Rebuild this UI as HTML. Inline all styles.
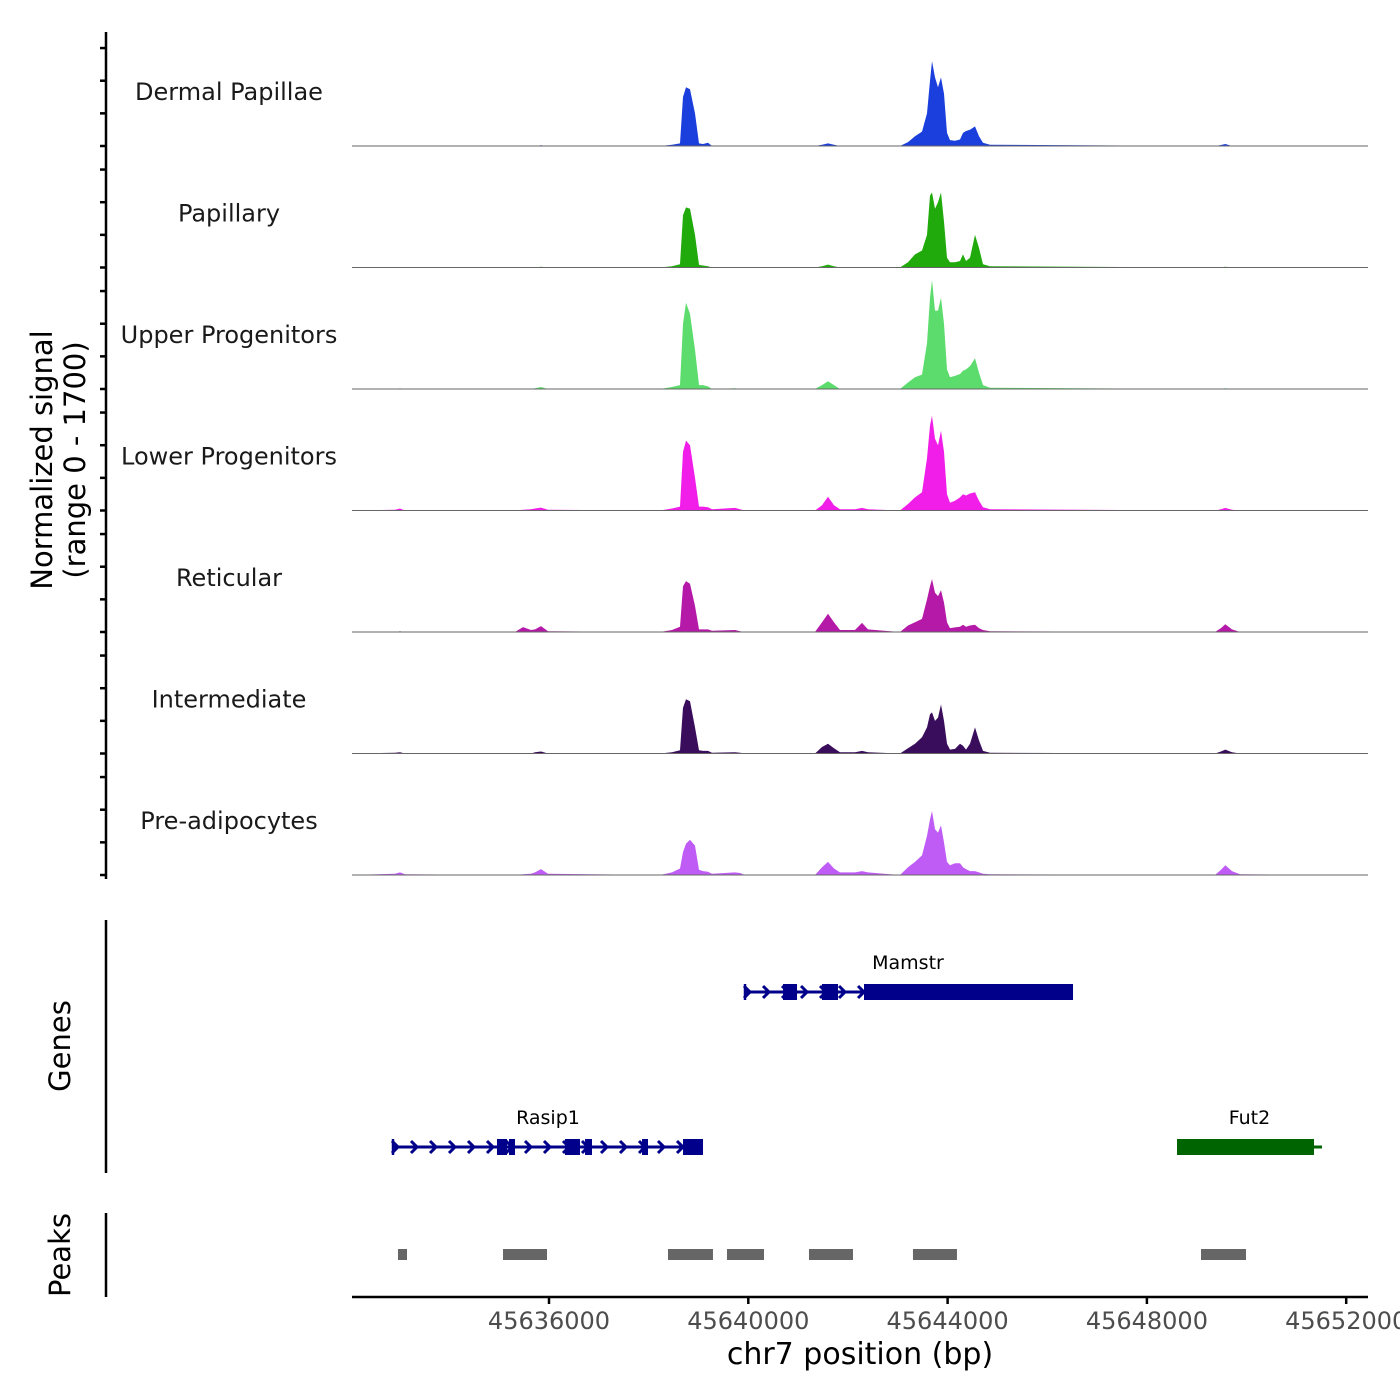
<!DOCTYPE html>
<html><head><meta charset="utf-8"><style>
html,body{margin:0;padding:0;background:#fff;}
svg{display:block;font-family:"DejaVu Sans","Liberation Sans",sans-serif;}
</style></head><body>
<svg id="chart" width="1400" height="1400" viewBox="0 0 1400 1400" xmlns="http://www.w3.org/2000/svg">
<rect width="1400" height="1400" fill="#fff"/>
<g id="tracks"></g>
<g id="yaxis"></g>
<g id="genes"></g>
<g id="peaks"></g>
<g id="xaxis"></g>
<text transform="translate(52,460) rotate(-90)" text-anchor="middle" font-size="29" fill="#000">Normalized signal</text>
<text transform="translate(85,460) rotate(-90)" text-anchor="middle" font-size="29" fill="#000">(range 0 - 1700)</text>
<text transform="translate(70,1046) rotate(-90)" text-anchor="middle" font-size="29" fill="#000">Genes</text>
<text transform="translate(70,1255) rotate(-90)" text-anchor="middle" font-size="29" fill="#000">Peaks</text>
<text x="860" y="1364" text-anchor="middle" font-size="30" fill="#000">chr7 position (bp)</text>
</svg>
<script>
const trackNames=["Dermal Papillae","Papillary","Upper Progenitors","Lower Progenitors","Reticular","Intermediate","Pre-adipocytes"];
const trackColors=["#1a3fdc","#20aa0c","#5cdc6c","#f01ee8","#b519a8","#3a0c5c","#c05cf6"];
const positions=[45632046,45632909,45633010,45633110,45635318,45635478,45635639,45635719,45635839,45635980,
45638228,45638469,45638629,45638689,45638750,45638830,45638930,45639011,45639091,45639191,
45639271,45639733,45639833,45639934,45641339,45641479,45641600,45641720,45641840,45642141,
45642282,45642402,45643045,45643205,45643346,45643486,45643586,45643646,45643687,45643747,
45643807,45643867,45643927,45643988,45644048,45644148,45644249,45644309,45644369,45644450,
45644550,45644630,45644710,45644851,45649367,45649487,45649573,45649708,45649868,45652437];
const sigDermal=[0,0,5,0,0,0,0,0,10,0, 0,20,40,750,900,870,500,40,30,50, 0,0,0,0,0,20,40,20,0,0, 0,0,0,60,150,220,500,1000,1300,1050, 900,1050,800,200,90,80,100,200,230,250, 300,150,50,20, 0,15,30,0,0,0];
const sigPapillary=[0,0,0,0,0,0,0,0,10,0, 0,20,50,800,920,900,500,40,30,20, 0,0,0,0,0,20,45,20,0,0, 0,0,0,80,200,260,500,1100,1150,900, 1000,1150,700,150,80,80,100,200,100,150, 500,300,50,20, 0,0,10,0,0,0];
const sigUpper=[0,0,10,0,0,0,0,10,30,0, 0,30,60,1000,1320,1150,600,60,60,40, 0,10,0,0,0,60,120,60,0,0, 0,0,0,100,180,220,700,1400,1670,1200, 1200,1400,1000,300,180,200,230,280,300,350, 470,250,60,20, 0,0,10,0,0,0];
const sigLower=[0,10,30,0,0,10,20,30,45,10, 0,30,60,900,1070,1000,500,60,60,50, 20,40,20,0,0,80,210,80,20,20, 40,20,0,100,200,280,800,1300,1450,1100, 1000,1220,900,250,120,150,200,250,230,260, 280,150,50,20, 0,20,40,10,0,0];
const sigReticular=[0,0,10,0,0,75,30,40,90,10, 0,30,80,700,780,740,400,40,40,40, 20,30,10,0,0,150,280,150,30,30, 140,40,0,100,150,200,500,700,810,600, 550,640,450,150,60,70,80,110,80,100, 110,60,30,10, 0,60,120,40,0,0];
const sigIntermediate=[0,10,20,0,0,0,0,20,30,0, 0,20,50,700,830,800,400,50,40,40, 10,20,10,0,0,100,150,80,20,20, 40,20,0,80,150,250,400,600,630,500, 550,750,500,150,60,70,150,120,60,150, 400,200,40,10, 0,30,60,20,0,0];
const sigPreadipo=[0,20,40,10,0,10,20,40,90,20, 0,40,100,350,480,540,450,80,60,50, 20,40,30,0,0,120,200,100,40,40, 60,40,0,120,200,300,600,850,980,700, 650,760,500,200,150,180,180,120,90,60, 60,40,20,10, 0,80,150,60,10,0];
const signals=[sigDermal,sigPapillary,sigUpper,sigLower,sigReticular,sigIntermediate,sigPreadipo];
const yTicks=[0,500,1000,1500];
const xTicks=[45636000,45640000,45644000,45648000,45652000];
const geneNames=["Mamstr","Rasip1","Fut2"];
const geneStarts=[45639934,45632869,45648604];
const geneEnds=[45646517,45639091,45651514];
const geneRows=[0,1,1];
const geneColors=["#00008b","#00008b","#006400"];
const exonGene=[0,0,0,1,1,1,1,1,1,2];
const exonStarts=[45640697,45641479,45642322,45634956,45635197,45636321,45636723,45637867,45638690,45648604];
const exonEnds=[45640978,45641800,45646517,45635157,45635318,45636622,45636863,45637987,45639091,45651354];
const peakStarts=[45632969,45635077,45638388,45639572,45641218,45643305,45649086];
const peakEnds=[45633150,45635960,45639291,45640315,45642101,45644188,45649989];

const NS="http://www.w3.org/2000/svg";
function mk(tag,attrs,parent){const e=document.createElementNS(NS,tag);for(const k in attrs)e.setAttribute(k,attrs[k]);parent.appendChild(e);return e;}
const X0=352,X1=1368;
function xs(bp){return 549+(bp-45636000)*(199.3/4000);}
const TRACK_TOP=146,TRACK_STEP=121.5,YMAX=1700,YPX=111;
function ys(i,v){return TRACK_TOP+i*TRACK_STEP-v*YPX/YMAX;}

const tracks=document.getElementById('tracks');
signals.forEach((s,i)=>{
  const base=ys(i,0);
  let pts=[xs(positions[0])+','+base];
  s.forEach((v,j)=>pts.push(xs(positions[j]).toFixed(1)+','+ys(i,v).toFixed(1)));
  pts.push(xs(positions[positions.length-1])+','+base);
  const poly=mk('polygon',{points:pts.join(' '),fill:trackColors[i]},tracks);
  
  
  const ln=mk('line',{x1:X0,x2:X1,y1:base,y2:base,stroke:'#666','stroke-width':1},tracks);
  
  
  const t=mk('text',{x:229,y:base-46,'text-anchor':'middle','font-size':24,fill:'#1a1a1a'},tracks);
  t.textContent=trackNames[i];
  
  
});

const yaxis=document.getElementById('yaxis');
mk('line',{x1:106,x2:106,y1:32,y2:879,stroke:'#000','stroke-width':2.5},yaxis);
for(let i=0;i<signals.length;i++){
  yTicks.forEach(v=>{
    const tk=mk('line',{x1:100,x2:106,y1:ys(i,v),y2:ys(i,v),stroke:'#000','stroke-width':2.5},yaxis);
    
    
  });
}
mk('line',{x1:106,x2:106,y1:920,y2:1173,stroke:'#000','stroke-width':2.5},yaxis);
mk('line',{x1:106,x2:106,y1:1213,y2:1297,stroke:'#000','stroke-width':2.5},yaxis);

const genes=document.getElementById('genes');
const rowY=[992,1147];
geneNames.forEach((n,g)=>{
  const y=rowY[geneRows[g]],a=xs(geneStarts[g]),b=xs(geneEnds[g]),c=geneColors[g];
  const ln=mk('line',{x1:a,x2:b,y1:y,y2:y,stroke:c,'stroke-width':3},genes);
  
  
  if(g<2){
    for(let x=a+2;x<b-6;x+=19){
      mk('polyline',{points:(x-3)+','+(y-6)+' '+(x+3)+','+y+' '+(x-3)+','+(y+6),fill:'none',stroke:c,'stroke-width':3},genes);
    }
    mk('line',{x1:a,x2:a,y1:y-8,y2:y+8,stroke:c,'stroke-width':2.5},genes);
  }
  const t=mk('text',{x:(a+b)/2+(g==0?-1:0),y:y-23,'text-anchor':'middle','font-size':19,fill:'#000'},genes);
  t.textContent=n;
  
  
});
exonStarts.forEach((s,k)=>{
  const g=exonGene[k],y=rowY[geneRows[g]];
  const r=mk('rect',{x:xs(s),y:y-8,width:Math.max(2,xs(exonEnds[k])-xs(s)),height:16,fill:geneColors[g]},genes);
  
  
});

const peaks=document.getElementById('peaks');
peakStarts.forEach((s,k)=>{
  const r=mk('rect',{x:xs(s),y:1249,width:xs(peakEnds[k])-xs(s),height:11,fill:'#666'},peaks);
  
  
});

const xaxis=document.getElementById('xaxis');
mk('line',{x1:X0,x2:X1,y1:1297,y2:1297,stroke:'#000','stroke-width':2.5},xaxis);
xTicks.forEach(v=>{
  const x=xs(v);
  const tk=mk('line',{x1:x,x2:x,y1:1297,y2:1304,stroke:'#000','stroke-width':2.5},xaxis);
  
  
  const t=mk('text',{x:x,y:1329,'text-anchor':'middle','font-size':24,fill:'#4d4d4d'},xaxis);
  t.textContent=String(v);
  
  
});
</script>
</body></html>
